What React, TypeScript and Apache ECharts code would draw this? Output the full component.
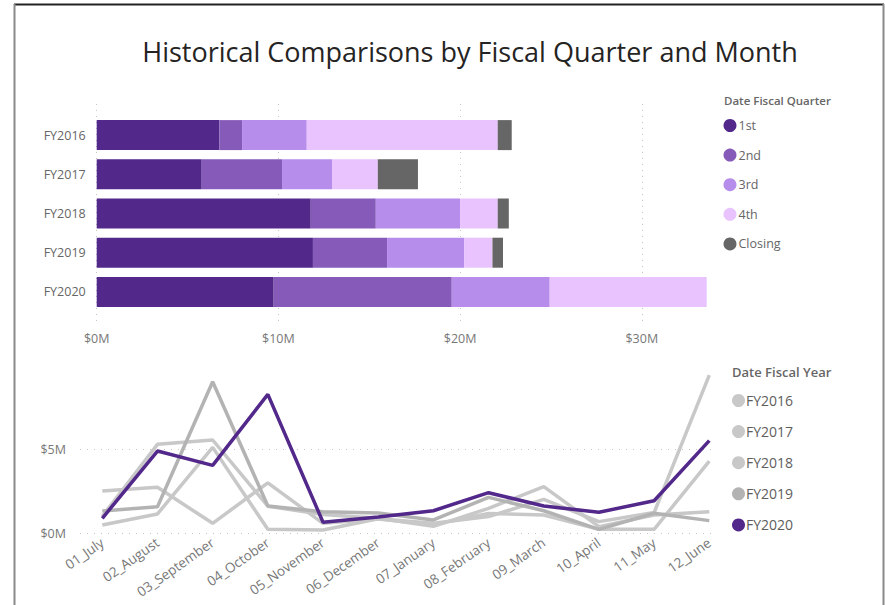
import React, { useEffect, useRef } from "react";
import * as echarts from "echarts";

const fiscalYears = ["FY2016", "FY2017", "FY2018", "FY2019", "FY2020"];
const quarterNames = ["1st", "2nd", "3rd", "4th", "Closing"];
const q1Values = [6.75, 5.78, 11.78, 11.9, 9.74];
const q2Values = [1.25, 4.42, 3.58, 4.08, 9.8];
const q3Values = [3.56, 2.75, 4.64, 4.24, 5.39];
const q4Values = [10.51, 2.52, 2.07, 1.56, 8.64];
const closingValues = [0.77, 2.21, 0.61, 0.58, 0];
const quarterColors = ["#52288A", "#855AB9", "#B68DEB", "#E8C3FE", "#666666"];

const months = [
  "01_July", "02_August", "03_September", "04_October", "05_November", "06_December",
  "07_January", "08_February", "09_March", "10_April", "11_May", "12_June",
];
const fy2016 = [0.48, 1.14, 5.12, 0.22, 0.18, 0.85, 0.58, 0.98, 2.01, 0.68, 1.22, 9.44];
const fy2017 = [2.51, 2.73, 0.58, 3.0, 0.58, 0.84, 0.5, 1.17, 1.08, 0.22, 0.22, 4.3];
const fy2018 = [1.0, 5.3, 5.56, 1.6, 1.1, 0.88, 0.4, 1.47, 2.77, 0.38, 1.08, 1.27];
const fy2019 = [1.31, 1.57, 9.04, 1.61, 1.27, 1.2, 0.78, 2.13, 1.33, 0.22, 1.18, 0.74];
const fy2020 = [0.88, 4.9, 4.04, 8.29, 0.64, 0.96, 1.33, 2.41, 1.61, 1.24, 1.93, 5.52];
const yearColors = ["#C8C8C8", "#C8C8C8", "#C8C8C8", "#B3B3B3", "#52288A"];

const FONT = "'Open Sans', 'Noto Sans', sans-serif";

export default function App() {
  const ref = useRef<HTMLDivElement>(null);
  useEffect(() => {
    if (!ref.current) return;
    const chart = echarts.init(ref.current, undefined, { renderer: "svg" });
    const quarterData = [q1Values, q2Values, q3Values, q4Values, closingValues];
    const yearData = [fy2016, fy2017, fy2018, fy2019, fy2020];

    const barSeries = quarterNames.map((name, i) => ({
      name,
      type: "bar",
      stack: "total",
      xAxisIndex: 1,
      yAxisIndex: 1,
      barWidth: 30,
      itemStyle: { color: quarterColors[i] },
      data: quarterData[i],
    }));

    const lineSeries = fiscalYears.map((name, i) => ({
      name,
      type: "line",
      xAxisIndex: 3,
      yAxisIndex: 3,
      symbol: "none",
      z: i === 4 ? 5 : 2,
      lineStyle: { color: yearColors[i], width: 3.5 },
      itemStyle: { color: yearColors[i] },
      data: yearData[i],
    }));

    const topXMax = 34;
    const botYMax = 9.5;

    chart.setOption({
      animation: false,
      textStyle: { fontFamily: FONT },
      title: {
        text: "Historical Comparisons by Fiscal Quarter and Month",
        left: 465,
        textAlign: "center",
        top: 33,
        textStyle: { fontFamily: FONT, fontSize: 27, fontWeight: "normal", color: "#252423" },
      },
      grid: [
        { left: 96.7, top: 104, width: 617.8, height: 219 },
        { left: 96.7, top: 115.5, width: 617.8, height: 196 },
        { left: 80, top: 374.1, width: 632, height: 158.9 },
        { left: 102.3, top: 374.1, width: 607, height: 158.9 },
      ],
      xAxis: [
        {
          gridIndex: 0, type: "value", min: 0, max: topXMax, interval: 10,
          axisLine: { show: false }, axisTick: { show: false },
          axisLabel: {
            color: "#777", fontSize: 12.5, fontFamily: FONT, margin: 9,
            showMaxLabel: false,
            formatter: (v: number) => "$" + v + "M",
          },
          splitLine: { show: true, showMaxLine: false, lineStyle: { color: "#C4C4C4", type: [1, 5], width: 1 } },
        },
        { gridIndex: 1, type: "value", min: 0, max: topXMax, show: false },
        { gridIndex: 2, type: "value", min: 0, max: 1, show: false },
        {
          gridIndex: 3, type: "category", data: months, boundaryGap: false,
          axisLine: { show: false }, axisTick: { show: false },
          axisLabel: { color: "#777", fontSize: 13.5, fontFamily: FONT, rotate: 35, margin: 8, interval: 0 },
          splitLine: { show: false },
        },
      ],
      yAxis: [
        { gridIndex: 0, type: "value", min: 0, max: 1, show: false },
        {
          gridIndex: 1, type: "category", data: fiscalYears, inverse: true,
          axisLine: { show: false }, axisTick: { show: false },
          axisLabel: { color: "#666", fontSize: 12.5, fontFamily: FONT, margin: 11 },
        },
        {
          gridIndex: 2, type: "value", min: 0, max: botYMax, interval: 5,
          axisLine: { show: false }, axisTick: { show: false },
          axisLabel: {
            color: "#777", fontSize: 12.5, fontFamily: FONT, margin: 14,
            showMaxLabel: false,
            formatter: (v: number) => "$" + v + "M",
          },
          splitLine: { show: true, showMaxLine: false, lineStyle: { color: "#C4C4C4", type: [1, 6], width: 1 } },
        },
        { gridIndex: 3, type: "value", min: 0, max: botYMax, show: false },
      ],
      legend: [
        {
          data: quarterNames,
          orient: "vertical",
          left: 723.5,
          top: 119,
          padding: 0,
          icon: "circle",
          itemWidth: 13,
          itemHeight: 13,
          itemGap: 16.6,
          textStyle: { color: "#666", fontSize: 12.5, fontFamily: FONT, padding: [0, 0, 0, -3] },
        },
        {
          data: fiscalYears,
          orient: "vertical",
          left: 732,
          top: 393.5,
          padding: 0,
          icon: "circle",
          itemWidth: 13,
          itemHeight: 13,
          itemGap: 17.1,
          textStyle: { color: "#605E5C", fontSize: 14, fontFamily: FONT, padding: [0, 0, 0, -4] },
        },
      ],
      graphic: [
        {
          type: "text", left: 724, top: 94,
          style: { text: "Date Fiscal Quarter", fill: "#666", font: "600 11.5px " + FONT },
        },
        {
          type: "text", left: 732, top: 365,
          style: { text: "Date Fiscal Year", fill: "#666", font: "600 13px " + FONT },
        },
        { type: "line", shape: { x1: 14, y1: 4.5, x2: 884, y2: 4.5 }, style: { stroke: "#222", lineWidth: 2 } },
        { type: "line", shape: { x1: 14.5, y1: 4, x2: 14.5, y2: 605 }, style: { stroke: "#8a8a8a", lineWidth: 2 } },
        { type: "line", shape: { x1: 883.5, y1: 4, x2: 883.5, y2: 605 }, style: { stroke: "#8a8a8a", lineWidth: 2 } },
      ],
      series: [...barSeries, ...lineSeries],
    });
    return () => chart.dispose();
  }, []);
  return (
    <div
      ref={ref}
      style={{ position: "fixed", left: 0, top: 0, width: 885, height: 605, background: "#fff" }}
    />
  );
}
